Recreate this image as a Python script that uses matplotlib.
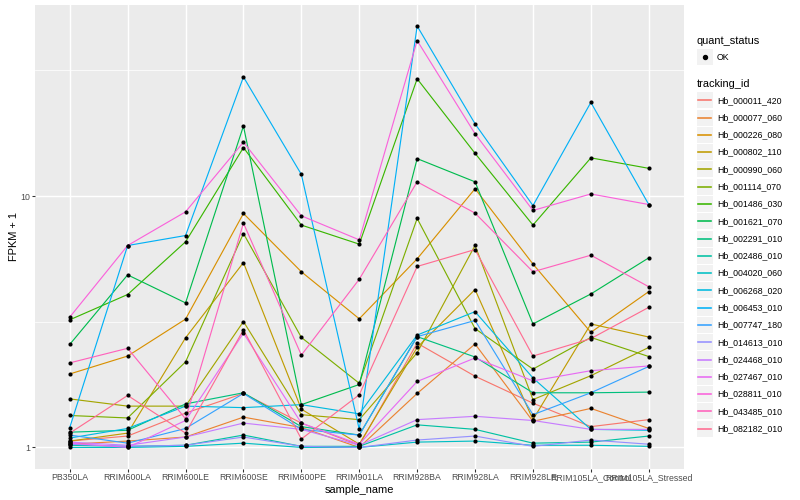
import numpy as np
import matplotlib
matplotlib.use("Agg")
import matplotlib.pyplot as plt
from matplotlib.patches import Rectangle
from matplotlib.lines import Line2D

plt.rcParams['font.family'] = ['Liberation Sans', 'DejaVu Sans']

samples = ["PB350LA", "RRIM600LA", "RRIM600LE", "RRIM600SE", "RRIM600PE", "RRIM901LA",
           "RRIM928BA", "RRIM928LA", "RRIM928LE", "RRIM105LA_Control", "RRIM105LA_Stressed"]

tracking_ids = ["Hb_000011_420", "Hb_000077_060", "Hb_000226_080", "Hb_000802_110",
                "Hb_000990_060", "Hb_001114_070", "Hb_001486_030", "Hb_001621_070",
                "Hb_002291_010", "Hb_002486_010", "Hb_004020_060", "Hb_006268_020",
                "Hb_006453_010", "Hb_007747_180", "Hb_014613_010", "Hb_024468_010",
                "Hb_027467_010", "Hb_028811_010", "Hb_043485_010", "Hb_082182_010"]

colors = ["#F8766D", "#EA8331", "#D89000", "#C09B00", "#A3A500", "#7CAE00", "#39B600",
          "#00BB4E", "#00BF7D", "#00C1A3", "#00BFC4", "#00BAE0", "#00B0F6", "#35A2FF",
          "#9590FF", "#C77CFF", "#E76BF3", "#FA62DB", "#FF62BC", "#FF6C91"]

v_000011_420 = [1.06, 1.11, 1.37, 1.64, 1.25, 1.02, 2.60, 1.92, 1.50, 1.21, 1.29]
v_000077_060 = [1.03, 1.06, 1.10, 1.32, 1.20, 1.00, 1.64, 2.58, 1.27, 1.43, 1.19]
v_000226_080 = [1.96, 2.31, 3.24, 8.53, 5.00, 3.25, 5.63, 10.7, 5.37, 2.87, 4.17]
v_000802_110 = [1.06, 1.14, 2.73, 5.44, 1.42, 1.03, 2.50, 4.25, 1.29, 3.10, 2.75]
v_000990_060 = [1.56, 1.46, 1.46, 3.17, 1.35, 1.29, 2.38, 6.37, 1.55, 1.93, 2.50]
v_001114_070 = [1.34, 1.31, 2.19, 7.10, 2.74, 1.80, 8.15, 2.97, 2.05, 2.74, 2.30]
v_001486_030 = [3.22, 4.06, 6.58, 15.6, 7.67, 6.44, 29.3, 14.8, 7.67, 14.2, 12.9]
v_001621_070 = [2.57, 4.86, 3.76, 19.0, 1.48, 1.78, 14.1, 11.4, 3.10, 4.08, 5.68]
v_002291_010 = [1.15, 1.17, 1.49, 1.65, 1.21, 1.12, 2.76, 2.29, 1.65, 1.65, 1.66]
v_002486_010 = [1.02, 1.01, 1.02, 1.12, 1.01, 1.01, 1.23, 1.18, 1.04, 1.05, 1.11]
v_004020_060 = [1.00, 1.00, 1.01, 1.04, 1.00, 1.00, 1.05, 1.06, 1.02, 1.02, 1.01]
v_006268_020 = [1.09, 1.19, 1.46, 1.44, 1.48, 1.36, 2.80, 3.47, 1.89, 1.18, 1.17]
v_006453_010 = [1.20, 6.36, 6.97, 29.8, 12.2, 1.18, 47.5, 19.4, 9.17, 23.6, 9.26]
v_007747_180 = [1.12, 1.04, 1.19, 1.64, 1.18, 1.12, 2.76, 3.20, 1.35, 1.65, 2.10]
v_014613_010 = [1.03, 1.01, 1.02, 1.10, 1.01, 1.00, 1.07, 1.11, 1.01, 1.07, 1.03]
v_024468_010 = [1.05, 1.02, 1.10, 1.25, 1.18, 1.02, 1.29, 1.33, 1.28, 1.18, 1.18]
v_027467_010 = [1.04, 1.00, 1.28, 2.85, 1.25, 1.03, 1.83, 2.27, 1.84, 2.02, 2.11]
v_028811_010 = [3.30, 6.36, 8.66, 16.4, 8.35, 6.70, 41.6, 17.7, 8.77, 10.2, 9.26]
v_043485_010 = [2.17, 2.48, 1.30, 7.81, 2.33, 4.67, 11.4, 8.56, 5.00, 5.82, 4.36]
v_082182_010 = [1.14, 1.61, 1.14, 2.94, 1.08, 1.62, 5.25, 6.13, 2.31, 2.71, 3.61]

series = [v_000011_420, v_000077_060, v_000226_080, v_000802_110, v_000990_060,
          v_001114_070, v_001486_030, v_001621_070, v_002291_010, v_002486_010,
          v_004020_060, v_006268_020, v_006453_010, v_007747_180, v_014613_010,
          v_024468_010, v_027467_010, v_028811_010, v_043485_010, v_082182_010]

W, H = 800, 500
fig = plt.figure(figsize=(8, 5), dpi=100)
fig.patch.set_facecolor("white")

def px(p):  # px -> points at dpi 100
    return p * 72.0 / 100.0

L, R, T, B = 35, 683.5, 5, 468.5
ax = fig.add_axes([L / W, 1 - B / H, (R - L) / W, (B - T) / H])
ax.set_facecolor("#EBEBEB")
for s in ax.spines.values():
    s.set_visible(False)

x = np.arange(len(samples))
for vals, col in zip(series, colors):
    ax.plot(x, vals, color=col, lw=px(1.15), zorder=3, solid_capstyle='butt')
for vals in series:
    ax.scatter(x, vals, s=9, color="black", zorder=4, linewidths=0)

ax.set_yscale("log")
allv = np.array(series)
lo, hi = np.log10(allv.min()), np.log10(allv.max())
pad = 0.05 * (hi - lo)
ax.set_ylim(10 ** (lo - pad), 10 ** (hi + pad))
ax.set_xlim(-0.6, len(samples) - 1 + 0.6)

ax.set_yticks([1, 10])
ax.set_yticklabels(["1", "10"])
ax.yaxis.set_minor_locator(matplotlib.ticker.FixedLocator([10 ** 0.5, 10 ** 1.5]))
ax.yaxis.set_minor_formatter(matplotlib.ticker.NullFormatter())
ax.set_xticks(x)
ax.set_xticklabels(samples)

ax.grid(which="major", color="white", lw=px(1.42), zorder=1)
ax.grid(which="minor", axis="y", color="white", lw=px(0.71), zorder=1)
ax.set_axisbelow(True)
ax.tick_params(axis="both", which="major", length=px(2.75), width=px(1.07), color="#333333",
               labelsize=px(8.8), labelcolor="#4D4D4D", pad=px(2.2))
ax.tick_params(axis="y", which="minor", length=0)

ax.set_xlabel("sample_name", fontsize=px(11), color="black")
ax.set_ylabel("FPKM + 1", fontsize=px(11), color="black")
ax.xaxis.set_label_coords(0.5, (B - 490) / (B - T))
ax.yaxis.set_label_coords((14 - L) / (R - L), 0.5)
ax.xaxis.label.set_va("center")
ax.yaxis.label.set_va("center")

# legends
def fx(p):
    return p / W
def fy(p):
    return 1 - p / H

kx0 = 696.7
ks = 17.28
fig.text(fx(kx0), fy(40.7), "quant_status", fontsize=px(11), va="center", ha="left")
fig.patches.append(Rectangle((fx(kx0), fy(57.3 + ks / 2 - 0.6)), fx(ks - 1.2), (ks - 1.2) / H,
                             transform=fig.transFigure, facecolor="#F2F2F2", edgecolor="none"))
fig.lines.append(Line2D([fx(kx0 + ks / 2 - 0.6)], [fy(57.3)], marker="o", markersize=px(4),
                        color="black", linestyle="none", transform=fig.transFigure))
fig.text(fx(717), fy(57.3), "OK", fontsize=px(8.8), va="center", ha="left")

fig.text(fx(kx0), fy(84), "tracking_id", fontsize=px(11), va="center", ha="left")
for i, (name, col) in enumerate(zip(tracking_ids, colors)):
    cy = 100.3 + i * ks
    fig.patches.append(Rectangle((fx(kx0), fy(cy + ks / 2 - 0.6)), fx(ks - 1.2), (ks - 1.2) / H,
                                 transform=fig.transFigure, facecolor="#F2F2F2", edgecolor="none"))
    fig.lines.append(Line2D([fx(kx0 + 1.5), fx(kx0 + ks - 2.5)], [fy(cy), fy(cy)], color=col,
                            lw=px(1.6), transform=fig.transFigure))
    fig.text(fx(717), fy(cy), name, fontsize=px(8.8), va="center", ha="left")

fig.savefig("out.png", dpi=100)
